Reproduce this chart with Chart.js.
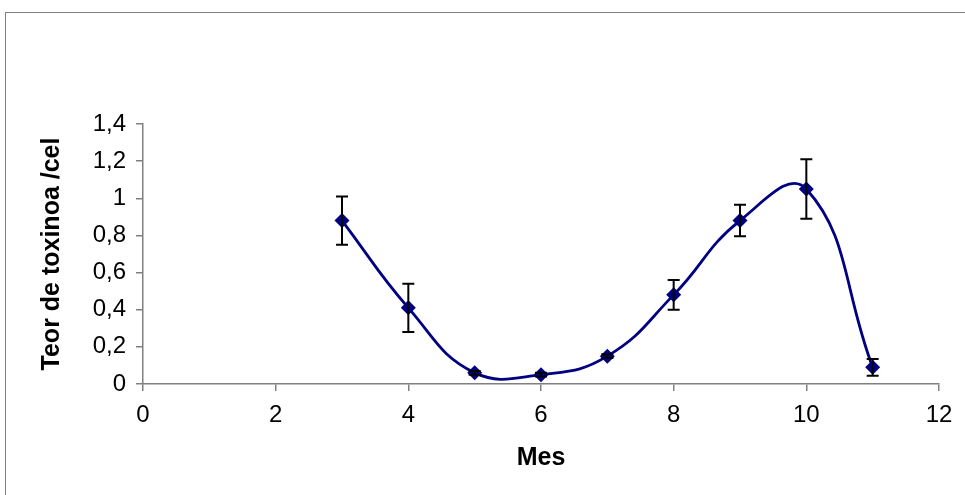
<!DOCTYPE html>
<html>
<head>
<meta charset="utf-8">
<script src="https://cdn.jsdelivr.net/npm/chart.js@4/dist/chart.umd.min.js"></script>
<style>
  html, body { margin: 0; padding: 0; background: #fff; }
  #wrap { position: relative; width: 965px; height: 495px; overflow: hidden; }
  #frame { position: absolute; left: 5px; top: 12px; width: 1000px; height: 600px; border: 1px solid #7f7f7f; box-sizing: border-box; }
  canvas { position: absolute; left: 0; top: 0; }
</style>
</head>
<body>
<div id="wrap">
  <div id="frame"></div>
  <canvas id="c" width="965" height="495"></canvas>
</div>
<script>
const months = [3, 4, 5, 6, 7, 8, 9, 10, 11];
const toxin = [0.88, 0.41, 0.06, 0.05, 0.15, 0.48, 0.88, 1.05, 0.09];
const errors = [0.13, 0.13, 0.01, 0.01, 0.01, 0.08, 0.085, 0.16, 0.045];
const xTickValues = [0, 2, 4, 6, 8, 10, 12];
const yTickValues = [0, 0.2, 0.4, 0.6, 0.8, 1.0, 1.2, 1.4];
const xTitle = 'Mes';
const yTitle = 'Teor de toxinoa /cel';

const errorBars = {
  id: 'errorBars',
  afterDatasetsDraw(chart) {
    const ctx = chart.ctx, xs = chart.scales.x, ys = chart.scales.y;
    ctx.save();
    ctx.strokeStyle = '#000';
    ctx.lineWidth = 2;
    months.forEach((m, i) => {
      const px = xs.getPixelForValue(m);
      const top = ys.getPixelForValue(toxin[i] + errors[i]);
      const bot = ys.getPixelForValue(toxin[i] - errors[i]);
      ctx.beginPath();
      ctx.moveTo(px, top); ctx.lineTo(px, bot);
      ctx.moveTo(px - 6, top); ctx.lineTo(px + 6, top);
      ctx.moveTo(px - 6, bot); ctx.lineTo(px + 6, bot);
      ctx.stroke();
    });
    ctx.restore();
  }
};

const fontFam = '"Liberation Sans", Arial, sans-serif';

new Chart(document.getElementById('c'), {
  type: 'line',
  data: {
    datasets: [{
      data: months.map((m, i) => ({ x: m, y: toxin[i] })),
      borderColor: '#000080',
      backgroundColor: '#000080',
      borderWidth: 2.8,
      tension: 0.45,
      pointStyle: 'rectRot',
      pointRadius: 7.5,
      pointBorderWidth: 0,
      pointBackgroundColor: '#000080',
      fill: false
    }]
  },
  options: {
    responsive: false,
    animation: false,
    layout: { padding: { left: 33, top: 124, right: 26, bottom: 18 } },
    plugins: { legend: { display: false }, tooltip: { enabled: false } },
    scales: {
      x: {
        type: 'linear',
        min: 0, max: 12,
        afterBuildTicks: s => { s.ticks = xTickValues.map(v => ({ value: v })); },
        afterFit: s => { s.height = 93; },
        ticks: { color: '#000', font: { family: fontFam, size: 24 }, padding: 10 },
        grid: { drawOnChartArea: false, drawTicks: true, tickLength: 7, color: '#808080', lineWidth: 1.5 },
        border: { color: '#808080', width: 1.5 },
        title: { display: true, text: xTitle, color: '#000', font: { family: fontFam, size: 25, weight: 'bold' }, padding: { top: 4, bottom: 4 } }
      },
      y: {
        min: 0, max: 1.4,
        afterBuildTicks: s => { s.ticks = yTickValues.map(v => ({ value: v })); },
        afterFit: s => { s.width = 110; },
        ticks: {
          color: '#000', font: { family: fontFam, size: 24 }, padding: 10,
          callback: v => String(Number(v.toFixed(1))).replace('.', ',')
        },
        grid: { drawOnChartArea: false, drawTicks: true, tickLength: 7, color: '#808080', lineWidth: 1.5 },
        border: { color: '#808080', width: 1.5 },
        title: { display: true, text: yTitle, color: '#000', font: { family: fontFam, size: 25, weight: 'bold' }, padding: 4 }
      }
    }
  },
  plugins: [errorBars]
});
</script>
</body>
</html>
